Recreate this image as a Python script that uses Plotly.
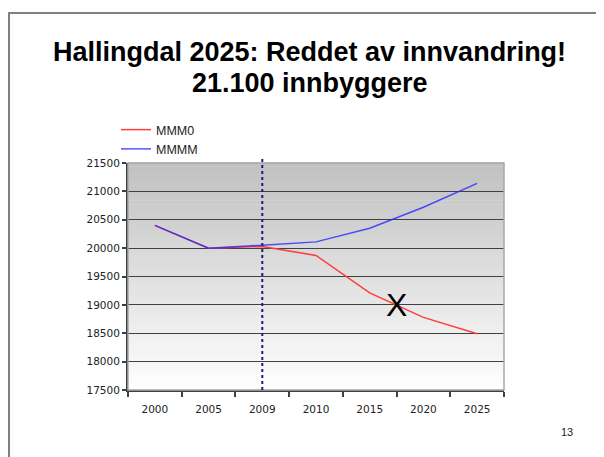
import plotly.graph_objects as go

# ---- data ----
years = ["2000", "2005", "2009", "2010", "2015", "2020", "2025"]
mmm0 = [20400, 20000, 20030, 19870, 19210, 18780, 18490]
mmmm = [20400, 20000, 20050, 20110, 20350, 20720, 21140]
y_ticks = [17500, 18000, 18500, 19000, 19500, 20000, 20500, 21000, 21500]
marker_year = "2009"
x_mark_value = 19000
title_line1 = "Hallingdal 2025: Reddet av innvandring!"
title_line2 = "21.100 innbyggere"
page_no = "13"

# page body has an 8px margin: figure origin sits at (8, 8) in the window
OX, OY = 8, 8
W, H = 604 - OX, 457 - OY
L, R, T, B = 128 - OX, 100, 163 - OY, 67
PW, PH = W - L - R, H - T - B


def px(xp):  # window pixel -> paper
    return (xp - OX - L) / PW


def py(yp):
    return (H - B - (yp - OY)) / PH


fig = go.Figure()
fig.add_trace(go.Scatter(x=years, y=mmm0, mode="lines", name="MMM0",
                         line=dict(color="rgb(255,60,60)", width=1.5)))
fig.add_trace(go.Scatter(x=years, y=mmmm, mode="lines", name="MMMM",
                         line=dict(color="rgba(40,40,255,0.8)", width=1.5)))

shapes = []
# gradient background of plot area
n = 60
for i in range(n):
    t = i / n
    g = int(round(255 - 63 * (t + 0.5 / n)))
    shapes.append(dict(type="rect", xref="x domain", yref="y domain",
                       x0=0, x1=1, y0=t, y1=(i + 1) / n + 0.002,
                       fillcolor=f"rgb({g},{g},{g})", line=dict(width=0),
                       layer="below"))
# plot outline (top/right light grey)
shapes.append(dict(type="rect", xref="paper", yref="paper",
                   x0=0, x1=1, y0=0, y1=1, line=dict(color="#a8a8a8", width=1.5),
                   layer="above"))
# vertical dotted line at marker year
xi = years.index(marker_year)
shapes.append(dict(type="line", xref="x", yref="paper", x0=xi, x1=xi,
                   y0=0, y1=1.02, line=dict(color="#1a1a8c", width=2, dash="dot"),
                   layer="above"))
# slide border
shapes.append(dict(type="rect", xref="paper", yref="paper",
                   x0=px(9), x1=px(640), y0=py(480), y1=py(13),
                   line=dict(color="#808080", width=2), layer="above"))

annotations = [
    dict(text=f"<b>{title_line1}</b>", xref="paper", yref="paper",
         x=px(309.5), y=py(52), xanchor="center", yanchor="middle", showarrow=False,
         font=dict(family="Liberation Sans, Arial", size=27, color="black")),
    dict(text=f"<b>{title_line2}</b>", xref="paper", yref="paper",
         x=px(309.5), y=py(83), xanchor="center", yanchor="middle", showarrow=False,
         font=dict(family="Liberation Sans, Arial", size=27, color="black")),
    dict(text="X", xref="x", yref="y", x=4.5, y=x_mark_value, showarrow=False,
         xanchor="center", yanchor="middle",
         font=dict(family="Liberation Sans, Arial", size=32, color="black")),
    dict(text=page_no, xref="paper", yref="paper", x=px(567), y=py(432),
         xanchor="center", yanchor="middle", showarrow=False,
         font=dict(family="Liberation Sans, Arial", size=11, color="#222")),
]

fig.update_layout(
    width=W, height=H,
    margin=dict(l=L, r=R, t=T, b=B, pad=0, autoexpand=False),
    paper_bgcolor="white", plot_bgcolor="white",
    shapes=shapes, annotations=annotations,
    showlegend=True,
    legend=dict(x=px(116), y=py(115), xanchor="left", yanchor="top",
                bgcolor="rgba(0,0,0,0)", itemwidth=30,
                font=dict(family="Liberation Sans, Arial", size=12.5, color="#222"),
                tracegroupgap=0),
    font=dict(family="DejaVu Sans", size=10.5, color="#222"),
)
fig.update_xaxes(type="category", range=[-0.5, len(years) - 0.5],
                 tickson="boundaries", ticks="outside", ticklen=5,
                 tickcolor="#404040", tickwidth=1.5,
                 showline=True, linecolor="#404040", linewidth=2,
                 showgrid=False, ticklabelstandoff=8,
                 tickfont=dict(family="DejaVu Sans", size=10.5, color="#222"))
fig.update_yaxes(range=[y_ticks[0], y_ticks[-1]], tickvals=y_ticks,
                 tickformat="d",
                 ticks="outside", ticklen=4, tickcolor="#404040", tickwidth=1.5,
                 showline=True, linecolor="#404040", linewidth=2,
                 showgrid=True, gridcolor="#404040", gridwidth=1.3,
                 zeroline=False,
                 tickfont=dict(family="DejaVu Sans", size=10.5, color="#222"))

fig.write_html("out.html")
